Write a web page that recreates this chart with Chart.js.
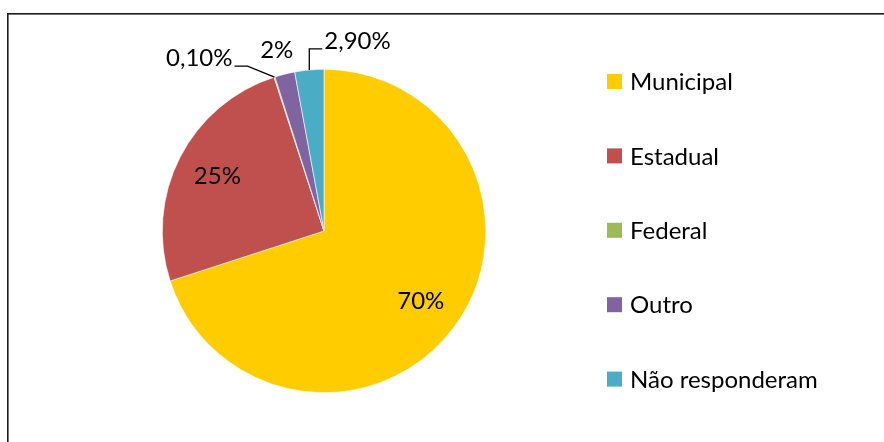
<!DOCTYPE html>
<html>
<head>
<meta charset="utf-8">
<script src="https://cdn.jsdelivr.net/npm/chart.js@4"></script>
<style>
  html, body { margin: 0; padding: 0; background: #fff; }
  #wrap { width: 884px; height: 442px; position: relative; }
</style>
</head>
<body>
<div id="wrap"><canvas id="pieChart" width="884" height="442"></canvas></div>
<script>
// dados do gráfico
const categorias = ['Municipal', 'Estadual', 'Federal', 'Outro', 'Não responderam'];
const valores = [70, 25, 0.1, 2, 2.9];
const rotulos = ['70%', '25%', '0,10%', '2%', '2,90%'];
const cores = ['#FFCC00', '#C0504D', '#9BBB59', '#8064A2', '#4BACC6'];

const FONTE = 'Lato, "Open Sans", sans-serif';

// rótulos, linhas de chamada, legenda e moldura
const extras = {
    id: 'extras',
    afterDatasetsDraw(chart) {
        const ctx = chart.ctx;
        const arcs = chart.getDatasetMeta(0).data;
        ctx.save();
        ctx.fillStyle = '#000';
        ctx.font = '24px ' + FONTE;
        ctx.textBaseline = 'middle';

        arcs.forEach((arc, i) => {
            const p = arc.getProps(['x', 'y', 'startAngle', 'endAngle', 'outerRadius'], true);
            const mid = (p.startAngle + p.endAngle) / 2;
            const cx = Math.cos(mid), cy = Math.sin(mid);
            if (i < 2) {
                // dentro da fatia
                ctx.textAlign = 'center';
                ctx.fillText(rotulos[i], p.x + cx * p.outerRadius * 0.74, p.y + cy * p.outerRadius * 0.74);
                return;
            }
            const ax = p.x + cx * p.outerRadius;
            const ay = p.y + cy * p.outerRadius;
            ctx.strokeStyle = '#000';
            ctx.lineWidth = 1.3;
            if (i === 2) {
                ctx.beginPath();
                ctx.moveTo(ax, ay);
                ctx.lineTo(ax - 27, ay - 11);
                ctx.lineTo(ax - 40, ay - 11);
                ctx.stroke();
                ctx.textAlign = 'right';
                ctx.fillText(rotulos[i], ax - 42, ay - 19);
            } else if (i === 3) {
                ctx.textAlign = 'center';
                ctx.fillText(rotulos[i], ax - 8, ay - 24);
            } else {
                ctx.beginPath();
                ctx.moveTo(ax, ay);
                ctx.lineTo(ax, ay - 21);
                ctx.lineTo(ax + 13, ay - 21);
                ctx.stroke();
                ctx.textAlign = 'left';
                ctx.fillText(rotulos[i], ax + 15, ay - 29);
            }
        });

        // legenda
        ctx.textAlign = 'left';
        categorias.forEach((nome, i) => {
            const y = 81.5 + i * 74.4;
            ctx.fillStyle = cores[i];
            ctx.fillRect(607, y - 7.5, 15, 15);
            ctx.fillStyle = '#000';
            ctx.fillText(nome, 630, y + 1);
        });

        // moldura
        ctx.strokeStyle = '#1a1a1a';
        ctx.lineWidth = 1.6;
        ctx.strokeRect(7.8, 13.8, 1000, 1000);
        ctx.restore();
    }
};

new Chart(document.getElementById('pieChart'), {
    type: 'pie',
    data: {
        labels: categorias,
        datasets: [{
            data: valores,
            backgroundColor: cores,
            borderColor: '#ffffff',
            borderWidth: 0.6
        }]
    },
    options: {
        responsive: false,
        animation: false,
        layout: { padding: { left: 162, right: 398, top: 69, bottom: 49 } },
        plugins: {
            legend: { display: false },
            tooltip: { enabled: false }
        }
    },
    plugins: [extras]
});
</script>
</body>
</html>
